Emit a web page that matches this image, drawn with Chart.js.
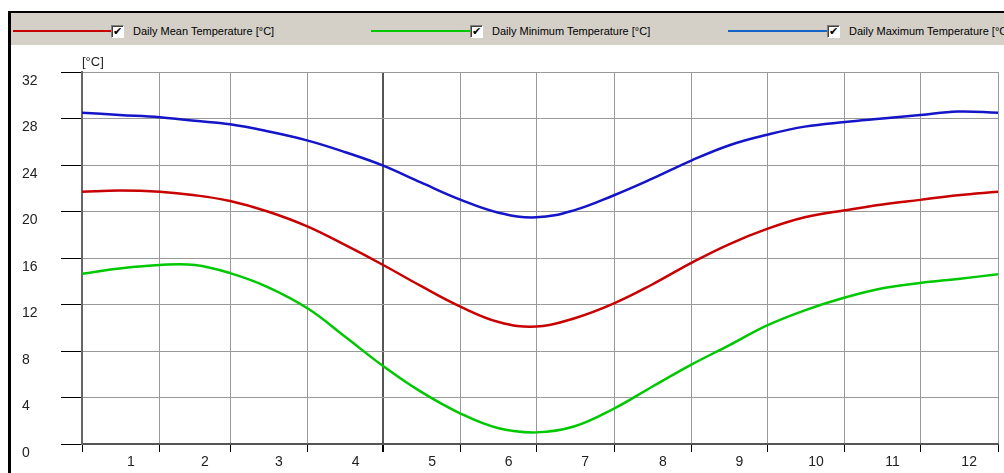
<!DOCTYPE html>
<html>
<head>
<meta charset="utf-8">
<script src="https://cdn.jsdelivr.net/npm/chart.js@4/dist/chart.umd.min.js"></script>
<style>
  body { margin: 0; background: #fff; font-family: 'Liberation Sans', Arial, sans-serif; }
  #wrap { position: relative; width: 1004px; height: 473px; overflow: hidden; }
  #chart-box { position: absolute; left: 0; top: 0; width: 1004px; height: 473px; }
  .frame-top { position: absolute; left: 8px; top: 11px; width: 996px; height: 2px; background: #000; }
  .frame-left { position: absolute; left: 8px; top: 11px; width: 3px; height: 462px; background: #000; }
  .legend-bar { position: absolute; left: 11px; top: 13px; width: 993px; height: 32px; background: #d4d0c8; }
  .leg-line { position: absolute; top: 30px; height: 2px; }
  .leg-box { position: absolute; top: 25px; width: 11px; height: 11px; background: #fff;
    border-top: 1px solid #808080; border-left: 1px solid #808080;
    border-right: 1px solid #fff; border-bottom: 1px solid #fff;
    box-shadow: inset 1px 1px 0 #404040; font-size: 11px; line-height: 12px; text-align: center; color: #000; font-family: 'DejaVu Sans', sans-serif; font-weight: bold; }
  .leg-text { position: absolute; top: 24px; font-size: 11px; line-height: 14px; color: #000; white-space: nowrap; }
  .unit { position: absolute; left: 82px; top: 54px; font-size: 13px; color: #222; }
</style>
</head>
<body>
<div id="wrap">
  <div id="chart-box"><canvas id="tempChart"></canvas></div>
  <div class="frame-top"></div>
  <div class="frame-left"></div>
  <div class="legend-bar"></div>
  <div id="legend"></div>
  <div class="unit">[°C]</div>
</div>
<script>
// Day of year for each sample
const days = [0, 15, 31, 45, 59, 74, 90, 105, 120, 135, 151, 166, 181, 196, 212, 227, 243, 258, 273, 288, 304, 319, 334, 349, 365];

// Temperatures [°C]
const meanTemp = [21.7, 21.8, 21.7, 21.4, 20.9, 20.0, 18.7, 17.1, 15.4, 13.6, 11.8, 10.5, 10.1, 10.8, 12.1, 13.7, 15.6, 17.2, 18.5, 19.5, 20.1, 20.6, 21.0, 21.4, 21.7];
const minTemp = [14.65, 15.1, 15.4, 15.4, 14.7, 13.5, 11.65, 9.2, 6.7, 4.5, 2.6, 1.35, 1.0, 1.5, 3.05, 4.9, 6.85, 8.5, 10.2, 11.5, 12.6, 13.4, 13.85, 14.2, 14.6];
const maxTemp = [28.5, 28.3, 28.1, 27.8, 27.5, 26.9, 26.1, 25.1, 23.95, 22.5, 21.0, 19.9, 19.5, 20.1, 21.4, 22.8, 24.4, 25.7, 26.6, 27.3, 27.7, 28.0, 28.3, 28.6, 28.5];

// Month boundaries (day of year) and month labels
const monthStarts = [0, 31, 59, 90, 120, 151, 181, 212, 243, 273, 304, 334, 365];
const monthLabels = ['1', '2', '3', '4', '5', '6', '7', '8', '9', '10', '11', '12'];

const seriesNames = ['Daily Mean Temperature [°C]', 'Daily Minimum Temperature [°C]', 'Daily Maximum Temperature [°C]'];

// --- legend bar ---
const legendItems = [
  { name: seriesNames[0], color: '#c80000', lineX: 13, lineW: 98, boxX: 111, textX: 133 },
  { name: seriesNames[1], color: '#00c800', lineX: 371, lineW: 99, boxX: 470, textX: 492 },
  { name: seriesNames[2], color: '#1464c8', lineX: 728, lineW: 99, boxX: 827, textX: 849 }
];
const legendEl = document.getElementById('legend');
legendItems.forEach(item => {
  legendEl.insertAdjacentHTML('beforeend',
    `<div class="leg-line" style="left:${item.lineX}px;width:${item.lineW}px;background:${item.color}"></div>` +
    `<div class="leg-box" style="left:${item.boxX}px">✔</div>` +
    `<div class="leg-text" style="left:${item.textX}px">${item.name}</div>`);
});

const toPoints = (vals) => vals.map((v, i) => ({ x: days[i], y: v }));

const tickFont = { family: "'Liberation Sans', Arial, sans-serif", size: 14 };

new Chart(document.getElementById('tempChart'), {
  type: 'line',
  data: {
    datasets: [
      { label: seriesNames[2], data: toPoints(maxTemp), borderColor: '#1414c8', borderWidth: 2.5 },
      { label: seriesNames[0], data: toPoints(meanTemp), borderColor: '#c80000', borderWidth: 2.5 },
      { label: seriesNames[1], data: toPoints(minTemp), borderColor: '#00c800', borderWidth: 2.5 }
    ].map(ds => ({ ...ds, pointRadius: 0, fill: false, tension: 0.4 }))
  },
  options: {
    responsive: true,
    maintainAspectRatio: false,
    animation: false,
    layout: { padding: { left: 22, top: 72, right: 6, bottom: 0 } },
    plugins: { legend: { display: false }, tooltip: { enabled: false } },
    scales: {
      x: {
        type: 'linear',
        min: 0,
        max: 365,
        afterBuildTicks: (scale) => { scale.ticks = monthStarts.map(v => ({ value: v })); },
        afterFit: (scale) => { scale.height = 8; },
        ticks: { display: false },
        grid: {
          color: (ctx) => (ctx.tick && ctx.tick.value === 120) ? '#555' : '#999',
          lineWidth: (ctx) => (ctx.tick && ctx.tick.value === 120) ? 2 : 1,
          tickColor: '#000',
          tickLength: 8
        },
        border: { color: '#555', width: 2 }
      },
      x2: {
        type: 'linear',
        position: 'bottom',
        min: 0,
        max: 365,
        afterBuildTicks: (scale) => {
          scale.ticks = monthLabels.map((_, i) => ({ value: (monthStarts[i] + monthStarts[i + 1]) / 2 + 4 }));
        },
        afterFit: (scale) => { scale.height = 21; },
        ticks: {
          color: '#222',
          font: tickFont,
          padding: 2,
          maxRotation: 0,
          autoSkip: false,
          callback: (val, idx) => monthLabels[idx]
        },
        grid: { display: false, drawTicks: false, tickLength: 0 },
        border: { display: false }
      },
      y: {
        min: 0,
        max: 32,
        afterFit: (scale) => { scale.width = 60; },
        ticks: {
          stepSize: 4,
          color: '#222',
          font: tickFont,
          crossAlign: 'far',
          labelOffset: 9,
          padding: 0
        },
        grid: { color: '#999', tickColor: '#000', tickLength: 21 },
        border: { color: '#666', width: 2 }
      }
    }
  }
});
</script>
</body>
</html>
